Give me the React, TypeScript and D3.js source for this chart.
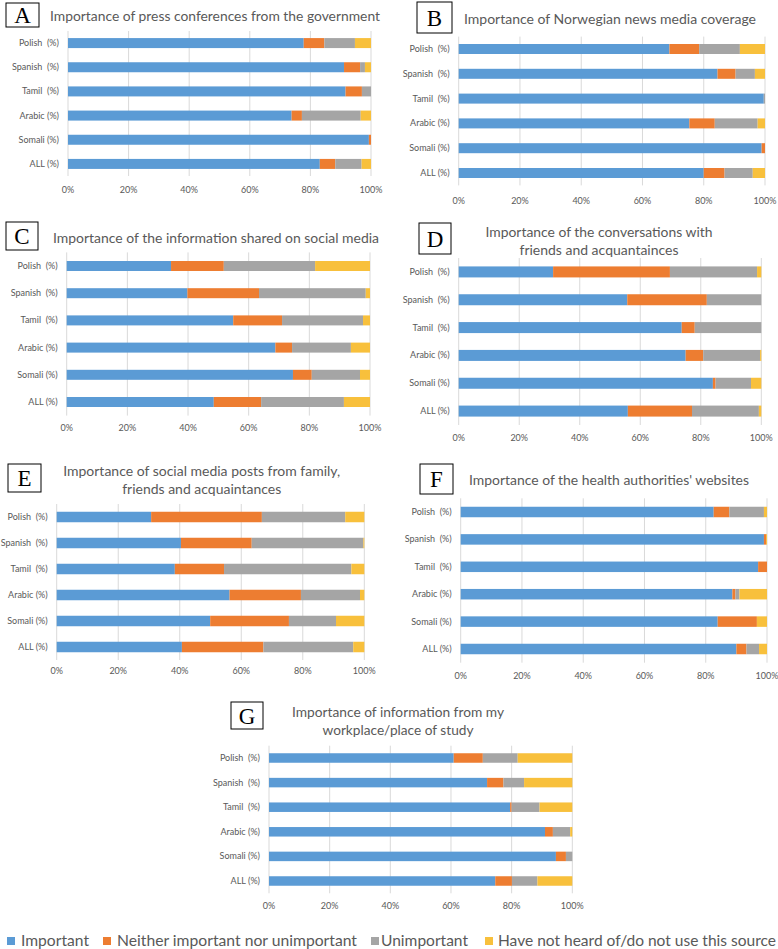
import React from "react";
import * as d3 from "d3";

// ---------- DATA ----------
const categories = ["Polish  (%)", "Spanish  (%)", "Tamil  (%)", "Arabic (%)", "Somali (%)", "ALL (%)"];
const seriesNames = [
  "Important",
  "Neither important nor unimportant",
  "Unimportant",
  "Have not heard of/do not use this source",
];
const xTicks = [0, 20, 40, 60, 80, 100];

// A – press conferences from the government
const pressImportant = [77.8, 91.1, 91.6, 73.8, 99.3, 83.1];
const pressNeither = [6.8, 5.3, 5.4, 3.4, 0.7, 5.1];
const pressUnimportant = [10.1, 1.6, 3.0, 19.4, 0, 8.7];
const pressNotHeard = [5.3, 2.0, 0, 3.4, 0, 3.1];

// B – Norwegian news media coverage
const newsImportant = [68.8, 84.5, 99.6, 75.3, 98.9, 80.0];
const newsNeither = [9.7, 5.9, 0, 8.3, 1.1, 6.8];
const newsUnimportant = [13.3, 6.3, 0.4, 14.0, 0, 9.2];
const newsNotHeard = [8.2, 3.3, 0, 2.4, 0, 4.0];

// C – information shared on social media
const socialImportant = [34.4, 39.8, 54.9, 68.8, 74.6, 48.5];
const socialNeither = [17.4, 23.6, 16.1, 5.5, 6.2, 15.6];
const socialUnimportant = [30.1, 35.2, 26.7, 19.4, 15.9, 27.3];
const socialNotHeard = [18.1, 1.4, 2.3, 6.3, 3.3, 8.6];

// D – conversations with friends and acquaintances
const convImportant = [31.2, 55.7, 73.7, 75.0, 84.0, 55.9];
const convNeither = [38.6, 26.3, 4.3, 5.8, 0.9, 21.2];
const convUnimportant = [28.8, 18.0, 22.0, 18.8, 11.7, 22.1];
const convNotHeard = [1.4, 0, 0, 0.4, 3.4, 0.8];

// E – social media posts from family, friends and acquaintances
const postsImportant = [30.7, 40.4, 38.4, 56.2, 49.9, 40.7];
const postsNeither = [36.0, 23.0, 16.0, 23.2, 25.6, 26.5];
const postsUnimportant = [27.1, 36.3, 41.4, 19.2, 15.3, 29.2];
const postsNotHeard = [6.2, 0.3, 4.2, 1.4, 9.2, 3.6];

// F – health authorities' websites
const healthImportant = [82.6, 99.0, 97.1, 88.7, 83.9, 90.0];
const healthNeither = [5.1, 0.7, 2.9, 1.0, 12.8, 3.3];
const healthUnimportant = [11.3, 0, 0, 1.3, 0, 4.1];
const healthNotHeard = [1.0, 0.3, 0, 9.0, 3.3, 2.6];

// G – workplace / place of study
const workImportant = [60.9, 71.9, 79.5, 91.0, 94.6, 74.6];
const workNeither = [9.6, 5.4, 0.5, 2.6, 3.3, 5.5];
const workUnimportant = [11.5, 6.8, 9.2, 5.7, 2.1, 8.4];
const workNotHeard = [18.0, 15.9, 10.8, 0.7, 0, 11.5];

// ---------- STYLE / LAYOUT ----------
const colors = ["#5B9BD5", "#ED7D31", "#A5A5A5", "#F8C03C"];
const textColor = "#595959";
const gridColor = "#D9D9D9";
const sansFont = "Lato, 'Open Sans', 'Liberation Sans', sans-serif";

type Panel = {
  letter: string;
  titles: string[];
  titleX: number;
  titleY: number[];
  titleW: number[];
  series: number[][];
  x0: number;
  x1: number;
  yTop: number;
  yBottom: number;
  tickY: number;
  box: [number, number, number, number];
  barH: number;
};

const panels: Panel[] = [
  {
    letter: "A",
    titles: ["Importance of press conferences from the government"],
    titleX: 215,
    titleY: [16],
    titleW: [330],
    series: [pressImportant, pressNeither, pressUnimportant, pressNotHeard],
    x0: 68, x1: 371, yTop: 31, yBottom: 176, tickY: 190,
    box: [6, 3, 33, 24], barH: 10,
  },
  {
    letter: "B",
    titles: ["Importance of Norwegian news media coverage"],
    titleX: 610,
    titleY: [19],
    titleW: [292],
    series: [newsImportant, newsNeither, newsUnimportant, newsNotHeard],
    x0: 458.7, x1: 765, yTop: 36.6, yBottom: 185.4, tickY: 201,
    box: [417, 2, 35, 31], barH: 10,
  },
  {
    letter: "C",
    titles: ["Importance of the information shared on social media"],
    titleX: 216,
    titleY: [238],
    titleW: [326],
    series: [socialImportant, socialNeither, socialUnimportant, socialNotHeard],
    x0: 66.7, x1: 370, yTop: 252.4, yBottom: 415.6, tickY: 428,
    box: [6, 222, 32, 28], barH: 10,
  },
  {
    letter: "D",
    titles: ["Importance of the conversations with", "friends and acquantainces"],
    titleX: 599,
    titleY: [232, 250],
    titleW: [227, 159],
    series: [convImportant, convNeither, convUnimportant, convNotHeard],
    x0: 458.7, x1: 761.3, yTop: 258, yBottom: 425, tickY: 438,
    box: [419, 223, 32, 31], barH: 11,
  },
  {
    letter: "E",
    titles: ["Importance of social media posts from family,", "friends and acquaintances"],
    titleX: 201.7,
    titleY: [471, 489],
    titleW: [277, 159],
    series: [postsImportant, postsNeither, postsUnimportant, postsNotHeard],
    x0: 56.7, x1: 364.3, yTop: 504, yBottom: 660, tickY: 671,
    box: [8, 464, 33, 28], barH: 10.5,
  },
  {
    letter: "F",
    titles: ["Importance of the health authorities' websites"],
    titleX: 609,
    titleY: [480],
    titleW: [280],
    series: [healthImportant, healthNeither, healthUnimportant, healthNotHeard],
    x0: 460.7, x1: 767, yTop: 498.3, yBottom: 662.7, tickY: 676,
    box: [420, 464, 33, 30], barH: 10.5,
  },
  {
    letter: "G",
    titles: ["Importance of information from my", "workplace/place of study"],
    titleX: 398,
    titleY: [712, 730],
    titleW: [212, 151],
    series: [workImportant, workNeither, workUnimportant, workNotHeard],
    x0: 269, x1: 572.3, yTop: 745.7, yBottom: 893.3, tickY: 906,
    box: [231, 702, 32, 27], barH: 9.5,
  },
];

const legendItems = [
  { sq: 7, tx: 21, tw: 68 },
  { sq: 103, tx: 117, tw: 240 },
  { sq: 371, tx: 381, tw: 87 },
  { sq: 485, tx: 498, tw: 278 },
];

function PanelChart({ p }: { p: Panel }) {
  const x = d3.scaleLinear().domain([0, 100]).range([p.x0, p.x1]);
  const y = d3.scalePoint<string>().domain(categories).range([p.yTop, p.yBottom]).padding(0.5);
  const rows = categories.map((c, i) => {
    const r: any = { cat: c };
    seriesNames.forEach((s, k) => (r[s] = p.series[k][i]));
    return r;
  });
  const stacked = d3.stack<any>().keys(seriesNames)(rows);
  return (
    <g>
      <rect x={p.box[0]} y={p.box[1]} width={p.box[2]} height={p.box[3]} fill="#fff" stroke="#000" strokeWidth={1} />
      <text
        x={p.box[0] + p.box[2] / 2}
        y={p.box[1] + p.box[3] / 2 + 8}
        textAnchor="middle"
        fontFamily="'Liberation Serif', 'DejaVu Serif', serif"
        fontSize={23}
        fill="#000"
      >
        {p.letter}
      </text>
      {p.titles.map((t, i) => (
        <text
          key={i}
          x={p.titleX}
          y={p.titleY[i] + 5}
          textAnchor="middle"
          fontFamily={sansFont}
          fontSize={14}
          fill={textColor}
          textLength={p.titleW[i]}
          lengthAdjust="spacingAndGlyphs"
        >
          {t}
        </text>
      ))}
      {xTicks.map((t) => (
        <line key={"g" + t} x1={x(t)} x2={x(t)} y1={p.yTop} y2={p.yBottom} stroke={gridColor} strokeWidth={1} />
      ))}
      {stacked.map((layer, k) => (
        <g key={layer.key} fill={colors[k]}>
          {layer.map((d, i) => {
            const w = x(d[1]) - x(d[0]);
            if (w <= 0) return null;
            return (
              <rect
                key={i}
                x={x(d[0])}
                y={(y(categories[i]) as number) - p.barH / 2}
                width={w}
                height={p.barH}
              />
            );
          })}
        </g>
      ))}
      {categories.map((c) => (
        <text
          key={c}
          x={p.x0 - 9}
          y={(y(c) as number) + 3}
          textAnchor="end"
          fontFamily={sansFont}
          fontSize={9}
          fill={textColor}
          style={{ whiteSpace: "pre" }}
        >
          {c}
        </text>
      ))}
      {xTicks.map((t) => (
        <text
          key={"t" + t}
          x={x(t)}
          y={p.tickY + 3}
          textAnchor="middle"
          fontFamily={sansFont}
          fontSize={9}
          fill={textColor}
        >
          {t + "%"}
        </text>
      ))}
    </g>
  );
}

export default function App() {
  return (
    <svg
      width={778}
      height={949}
      style={{ position: "absolute", left: 0, top: 0, background: "#fff" }}
    >
      <rect x={0} y={0} width={778} height={949} fill="#fff" />
      {panels.map((p) => (
        <PanelChart key={p.letter} p={p} />
      ))}
      {seriesNames.map((s, k) => (
        <g key={s}>
          <rect x={legendItems[k].sq} y={937} width={8} height={8} fill={colors[k]} />
          <text
            x={legendItems[k].tx}
            y={946}
            fontFamily={sansFont}
            fontSize={15}
            fill={textColor}
            textLength={legendItems[k].tw}
            lengthAdjust="spacingAndGlyphs"
          >
            {s}
          </text>
        </g>
      ))}
    </svg>
  );
}
